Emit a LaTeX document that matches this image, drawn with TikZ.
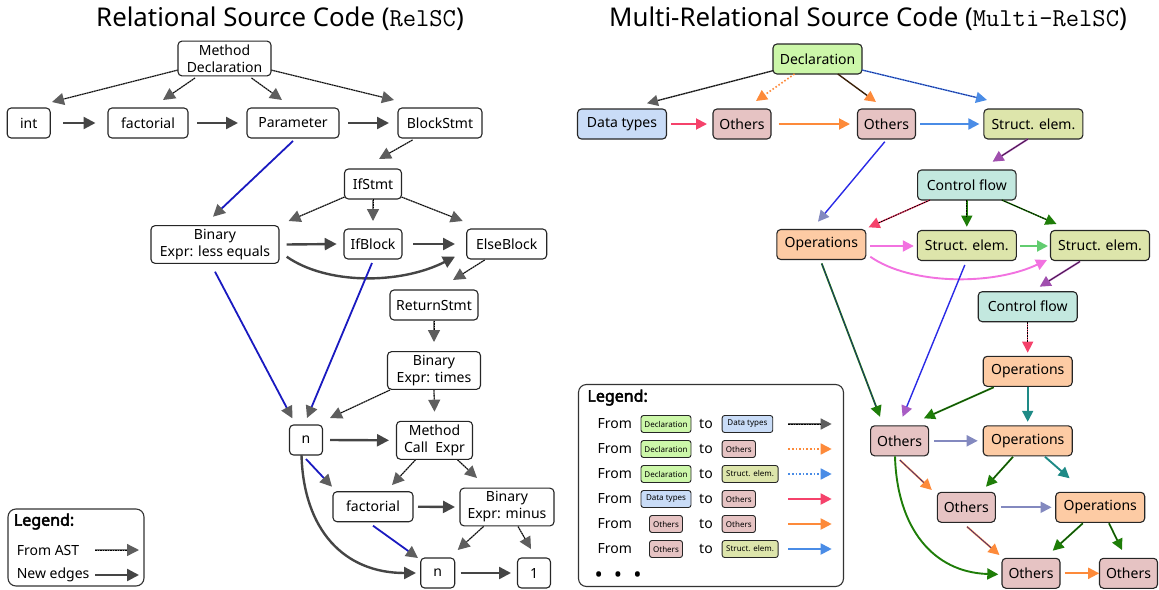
\documentclass[tikz,border=0pt]{standalone}
\usepackage{fontspec}
\setmainfont{Noto Sans}
\newfontfamily\lgbf{Noto Sans}[FakeBold=3]
\usetikzlibrary{arrows.meta,calc}
\definecolor{headgray}{HTML}{5E5E5E}
\definecolor{astgray}{HTML}{7A7A7A}
\definecolor{edgedark}{HTML}{454545}
\definecolor{bluel}{HTML}{1A1AC0}
\definecolor{declc}{HTML}{CCF7A9}
\definecolor{dtc}{HTML}{C9DCF7}
\definecolor{othc}{HTML}{E6C3C3}
\definecolor{sec}{HTML}{DDE5AB}
\definecolor{cfc}{HTML}{C3E8DF}
\definecolor{opc}{HTML}{FDCBA4}
\definecolor{cred}{HTML}{F5426B}
\definecolor{corange}{HTML}{FD8A3A}
\definecolor{cblue}{HTML}{4A8CE6}
\definecolor{cpurple}{HTML}{A04FAE}
\definecolor{cdpurple}{HTML}{3A1038}
\definecolor{clav}{HTML}{8389BF}
\definecolor{cnavy}{HTML}{1F1F8A}
\definecolor{cgreen}{HTML}{1E7D08}
\definecolor{cdgreen}{HTML}{123F08}
\definecolor{cpink}{HTML}{F272E0}
\definecolor{clgreen}{HTML}{62CC70}
\definecolor{cteal}{HTML}{1E8A86}
\definecolor{cblue2}{HTML}{2A2AE6}
\definecolor{cvio}{HTML}{A85CC4}
\definecolor{cbrown}{HTML}{3A2008}
\tikzset{
  box/.style={draw=black!85, line width=1.1pt, rounded corners=4pt, fill=white,
    minimum height=30pt, inner xsep=5pt, inner ysep=3.5pt, align=center,
    font=\fontsize{14}{17}\selectfont},
  sbox/.style={draw=black!85, line width=0.9pt, rounded corners=2.5pt,
    minimum height=17pt, inner xsep=2pt, inner ysep=1pt,
    font=\fontsize{8}{9}\selectfont},
  lt/.style={font=\fontsize{14}{16}\selectfont, inner sep=0pt},
  lgt/.style={font=\lgbf\fontsize{16}{18}\selectfont, inner sep=0pt, anchor=west},
  hd/.style={-{Triangle[length=11pt,width=11pt,color=#1]}},
  hdl/.style={-{Triangle[length=12pt,width=12pt,color=#1]}},
  ast/.style={draw=astgray, line width=1.3pt, hdl=headgray,
    postaction={draw=black, line width=0.8pt, dash pattern=on 1.6pt off 0.9pt, -, shorten >=12pt}},
  newe/.style={draw=edgedark, line width=2.4pt, hdl=edgedark},
  bluee/.style={draw=bluel, line width=1.8pt, hdl=headgray},
  re/.style={line width=1.9pt, draw=#1, hd=#1},
  rdual/.style 2 args={line width=1.8pt, draw=#2, hd=#2,
    postaction={draw=#1, line width=0.6pt, -, shorten >=11pt}},
  rdash/.style 2 args={line width=1.4pt, draw=#2, hd=#2,
    postaction={draw=#1, line width=0.8pt, dash pattern=on 1.6pt off 1pt, -, shorten >=11pt}},
  rdot/.style={line width=1.6pt, draw=#1, dash pattern=on 1.6pt off 2pt, hd=#1},
  rthin/.style 2 args={line width=1.4pt, draw=#1, hd=#2},
}
\begin{document}
\begin{tikzpicture}[x=1pt,y=-1pt]
\useasboundingbox (0,0) rectangle (1159,589);
% ---------------- titles
\node[font=\fontsize{25.8}{28}\selectfont, inner sep=0pt] (tL) at (280,19) {Relational Source Code (\texttt{RelSC})};
\node[font=\fontsize{25.8}{28}\selectfont, inner sep=0pt] (tR) at (868,19) {Multi-Relational Source Code (\texttt{Multi-RelSC})};
% ---------------- left nodes
\node[box, minimum width=93pt] (md) at (224.5,58.5) {Method\\Declaration};
\node[box, minimum width=43pt] (int) at (28.7,123) {int};
\node[box, minimum width=80pt] (fac) at (148,123) {factorial};
\node[box, minimum width=92pt] (par) at (293,123) {Parameter};
\node[box, minimum width=84pt] (blk) at (440,123) {BlockStmt};
\node[box, minimum width=57pt] (ifs) at (373,184) {IfStmt};
\node[box, minimum width=128pt] (ble) at (215,244.5) {Binary\\Expr: less equals};
\node[box, minimum width=58pt] (ifb) at (373,244) {IfBlock};
\node[box, minimum width=80pt] (els) at (506.7,244) {ElseBlock};
\node[box, minimum width=88pt] (ret) at (434,305) {ReturnStmt};
\node[box, minimum width=93pt] (bti) at (434,370.5) {Binary\\Expr: times};
\node[box, minimum width=33pt] (n1) at (306,440) {n};
\node[box, minimum width=76pt] (mce) at (434.5,440.3) {Method\\Call\ \ Expr};
\node[box, minimum width=80pt] (fac2) at (373,506.7) {factorial};
\node[box, minimum width=94pt] (bmi) at (507,507) {Binary\\Expr: minus};
\node[box, minimum width=34pt] (n2) at (437.7,573) {n};
\node[box, minimum width=33pt] (one) at (534,573) {1};
% ---------------- left edges
\draw[ast] ([shift={(-46.5,11.5)}]md.center) -- ([shift={(23.3,-21)}]int.center);
\draw[ast] ([shift={(-29.5,19.5)}]md.center) -- ([shift={(15,-23)}]fac.center);
\draw[ast] ([shift={(27,19.5)}]md.center) -- ([shift={(-11,-23)}]par.center);
\draw[ast] ([shift={(46.5,11.5)}]md.center) -- ([shift={(-46,-23)}]blk.center);
\draw[newe] ([shift={(34.3,0)}]int.center) -- ([shift={(-52.5,0)}]fac.center);
\draw[newe] ([shift={(49,0)}]fac.center) -- ([shift={(-55,0)}]par.center);
\draw[newe] ([shift={(55,0)}]par.center) -- ([shift={(-51,0)}]blk.center);
\draw[bluee] ([shift={(0,18)}]par.center) -- ([shift={(-2,-27.8)}]ble.center);
\draw[ast] ([shift={(-27.5,17)}]blk.center) -- ([shift={(6,-25)}]ifs.center);
\draw[ast] ([shift={(-28.5,13)}]ifs.center) -- ([shift={(73.6,-23.5)}]ble.center);
\draw[ast] ([shift={(0,15)}]ifs.center) -- ([shift={(0,-23)}]ifb.center);
\draw[ast] ([shift={(28.5,13)}]ifs.center) -- ([shift={(-44,-23)}]els.center);
\draw[newe] ([shift={(71.7,0)}]ble.center) -- ([shift={(-36.3,0)}]ifb.center);
\draw[newe] ([shift={(40,0)}]ifb.center) -- ([shift={(-51.7,0)}]els.center);
\draw[newe] ([shift={(71.7,12.2)}]ble.center) .. controls +(40,28) and +(-55,28) .. ([shift={(-51.7,12.7)}]els.center);
\draw[ast] ([shift={(-22,16)}]els.center) -- ([shift={(19,-25)}]ret.center);
\draw[bluee] ([shift={(0,27.2)}]ble.center) -- ([shift={(-13.7,-21.7)}]n1.center);
\draw[bluee] ([shift={(-1,19)}]ifb.center) -- ([shift={(1,-22)}]n1.center);
\draw[ast] ([shift={(0,15.5)}]ret.center) -- ([shift={(0,-28.5)}]bti.center);
\draw[ast] ([shift={(-44,19.5)}]bti.center) -- ([shift={(24,-22)}]n1.center);
\draw[ast] ([shift={(0,19.5)}]bti.center) -- ([shift={(0,-28.6)}]mce.center);
\draw[newe] ([shift={(24,0)}]n1.center) -- ([shift={(-45.5,0)}]mce.center);
\draw[bluee] ([shift={(0,19)}]n1.center) -- ([shift={(-41,-20)}]fac2.center);
\draw[ast] ([shift={(-19,19.5)}]mce.center) -- ([shift={(19,-21.7)}]fac2.center);
\draw[ast] ([shift={(23,19.5)}]mce.center) -- ([shift={(-30,-29)}]bmi.center);
\draw[newe] ([shift={(45,0)}]fac2.center) -- ([shift={(-52,0)}]bmi.center);
\draw[bluee] ([shift={(0,19)}]fac2.center) -- ([shift={(-19.7,-15)}]n2.center);
\draw[newe] ([shift={(-4.5,15)}]n1.center) .. controls +(2,75) and +(-72,0) .. ([shift={(-21.7,0)}]n2.center);
\draw[ast] ([shift={(-23.5,19.5)}]bmi.center) -- ([shift={(20,-23)}]n2.center);
\draw[ast] ([shift={(11,19.5)}]bmi.center) -- ([shift={(-3,-24)}]one.center);
\draw[newe] ([shift={(23,0)}]n2.center) -- ([shift={(-23,0)}]one.center);
% ---------------- left legend
\node[draw=black!80, line width=1.1pt, rounded corners=8pt, minimum width=136pt, minimum height=77pt, inner sep=0pt] (lgL) at (76,547.5) {};
\node[lgt] (lgLt) at (13.7,521.5) {Legend:};
\node[lt, anchor=west] (lgL1) at (16.6,550) {From AST};
\node[lt, anchor=west] (lgL2) at (16.6,575) {New edges};
\coordinate (la1) at (95,550); \coordinate (lb1) at (139,550);
\coordinate (la2) at (95,575); \coordinate (lb2) at (139,575);
\draw[ast] (la1) -- (lb1);
\draw[newe] (la2) -- (lb2);
% ---------------- right nodes
\node[box, fill=declc, minimum width=89pt] (decl) at (817.5,59) {Declaration};
\node[box, fill=dtc, minimum width=89pt] (dt) at (622,124) {Data types};
\node[box, fill=othc, minimum width=58pt] (o1) at (742,124) {Others};
\node[box, fill=othc, minimum width=58pt] (o2) at (886.5,124) {Others};
\node[box, fill=sec, minimum width=99pt] (se1) at (1033.4,124) {Struct. elem.};
\node[box, fill=cfc, minimum width=98.5pt] (cf1) at (966.8,185) {Control flow};
\node[box, fill=opc, minimum width=89pt] (op1) at (821.3,244.5) {Operations};
\node[box, fill=sec, minimum width=99pt] (se2) at (966.8,245.5) {Struct. elem.};
\node[box, fill=sec, minimum width=99pt] (se3) at (1100,245.5) {Struct. elem.};
\node[box, fill=cfc, minimum width=99pt] (cf2) at (1027.7,306.7) {Control flow};
\node[box, fill=opc, minimum width=89pt] (op2) at (1027.7,371.3) {Operations};
\node[box, fill=othc, minimum width=58pt] (o3) at (899.6,440.8) {Others};
\node[box, fill=opc, minimum width=89pt] (op3) at (1027.7,440.8) {Operations};
\node[box, fill=othc, minimum width=58pt] (o4) at (966.3,507.3) {Others};
\node[box, fill=opc, minimum width=89pt] (op4) at (1100.2,507.3) {Operations};
\node[box, fill=othc, minimum width=58pt] (o5) at (1031,573.3) {Others};
\node[box, fill=othc, minimum width=58pt] (o6) at (1128.5,573.3) {Others};
% ---------------- right edges
\draw[rdash={black}{headgray}] ([shift={(-44.5,11.7)}]decl.center) -- ([shift={(25,-20.7)}]dt.center);
\draw[rdot=corange] ([shift={(-23,15)}]decl.center) -- ([shift={(14,-23)}]o1.center);
\draw[rthin={cbrown}{corange}] ([shift={(20.3,15)}]decl.center) -- ([shift={(-10.5,-22)}]o2.center);
\draw[rdash={cnavy}{cblue}] ([shift={(44.5,11)}]decl.center) -- ([shift={(-46.4,-24)}]se1.center);
\draw[re=cred] ([shift={(49.4,0)}]dt.center) -- ([shift={(-35,0)}]o1.center);
\draw[re=corange] ([shift={(36.5,0)}]o1.center) -- ([shift={(-36.5,0)}]o2.center);
\draw[re=cblue] ([shift={(33.5,0)}]o2.center) -- ([shift={(-54,0)}]se1.center);
\draw[rdual={cdpurple}{cpurple}] ([shift={(-5.4,15)}]se1.center) -- ([shift={(25.8,-23.3)}]cf1.center);
\draw[rthin={cblue2}{clav}] ([shift={(-1.7,17.7)}]o2.center) -- ([shift={(-3.3,-22.8)}]op1.center);
\draw[rdash={black}{cred}] ([shift={(-36.8,15)}]cf1.center) -- ([shift={(47.3,-17.2)}]op1.center);
\draw[rdash={black}{cgreen}] ([shift={(0,15)}]cf1.center) -- ([shift={(0,-18.8)}]se2.center);
\draw[rdash={black}{cgreen}] ([shift={(35,15)}]cf1.center) -- ([shift={(-43.5,-21.5)}]se3.center);
\draw[re=cpink, line width=2.1pt] ([shift={(49,1.5)}]op1.center) -- ([shift={(-53,0.5)}]se2.center);
\draw[re=clgreen, line width=2.1pt] ([shift={(53,0.5)}]se2.center) -- ([shift={(-52,0.5)}]se3.center);
\draw[re=cpink] ([shift={(49,12.2)}]op1.center) .. controls +(40,28) and +(-55,26) .. ([shift={(-53,14.5)}]se3.center);
\draw[rdual={cdpurple}{cpurple}] ([shift={(-20,16)}]se3.center) -- ([shift={(12,-20)}]cf2.center);
\draw[rdual={cnavy}{cgreen}] ([shift={(0.4,19)}]op1.center) -- ([shift={(-19.6,-24)}]o3.center);
\draw[rthin={cblue2}{cvio}] ([shift={(-2,19.5)}]se2.center) -- ([shift={(3,-24)}]o3.center);
\draw[rdash={black}{cred}] ([shift={(0,15.3)}]cf2.center) -- ([shift={(0,-18.6)}]op2.center);
\draw[rdual={cdgreen}{cgreen}] ([shift={(-34,16)}]op2.center) -- ([shift={(24.3,-22.5)}]o3.center);
\draw[re=cteal] ([shift={(0,15.5)}]op2.center) -- ([shift={(0,-19)}]op3.center);
\draw[re=clav] ([shift={(34.8,0)}]o3.center) -- ([shift={(-50,0)}]op3.center);
\draw[rdual={cdgreen}{cgreen}] ([shift={(-14.7,16)}]op3.center) -- ([shift={(19.7,-20.6)}]o4.center);
\draw[re=cteal] ([shift={(17.3,16)}]op3.center) -- ([shift={(-30.6,-29)}]op4.center);
\draw[rdual={cnavy}{corange}] ([shift={(0.2,19.2)}]o3.center) -- ([shift={(-34.5,-17.3)}]o4.center);
\draw[re=clav] ([shift={(34.6,0)}]o4.center) -- ([shift={(-48.6,0)}]op4.center);
\draw[rdual={cdgreen}{cgreen}] ([shift={(-17.4,16)}]op4.center) -- ([shift={(21.7,-22.6)}]o5.center);
\draw[rdual={cdgreen}{cgreen}] ([shift={(8.8,16)}]op4.center) -- ([shift={(-6.5,-23.3)}]o6.center);
\draw[rdual={cnavy}{corange}] ([shift={(0.7,19.4)}]o4.center) -- ([shift={(-31.6,-18.3)}]o5.center);
\draw[re=cgreen] ([shift={(-4.6,15.5)}]o3.center) .. controls +(2,72) and +(-65,-2) .. ([shift={(-32.7,1)}]o5.center);
\draw[re=corange] ([shift={(33.7,0)}]o5.center) -- ([shift={(-29.3,0)}]o6.center);
% ---------------- right legend
\node[draw=black!80, line width=1.1pt, rounded corners=8pt, minimum width=265pt, minimum height=202pt, inner sep=0pt] (lgR) at (711,485.5) {};
\node[lgt] (lgRt) at (587.3,397.5) {Legend:};
% row 1
\node[lt, anchor=west] (f1) at (597.3,424) {From};
\node[sbox, fill=declc, minimum width=50pt] (fb1) at (666,424) {Declaration};
\node[lt] (t1) at (706,424) {to};
\node[sbox, fill=dtc, minimum width=50.6pt, anchor=west] (tb1) at (721.7,424) {Data types};
\coordinate (ls1) at (788.3,424); \coordinate (le1) at (831.7,424);
\draw[rdash={black}{headgray}] (ls1) -- (le1);
% row 2
\node[lt, anchor=west] (f2) at (597.3,449) {From};
\node[sbox, fill=declc, minimum width=50pt] (fb2) at (666,449) {Declaration};
\node[lt] (t2) at (706,449) {to};
\node[sbox, fill=othc, minimum width=33.3pt, anchor=west] (tb2) at (721.7,449) {Others};
\coordinate (ls2) at (788.3,449); \coordinate (le2) at (831.7,449);
\draw[rdot=corange] (ls2) -- (le2);
% row 3
\node[lt, anchor=west] (f3) at (597.3,474) {From};
\node[sbox, fill=declc, minimum width=50pt] (fb3) at (666,474) {Declaration};
\node[lt] (t3) at (706,474) {to};
\node[sbox, fill=sec, minimum width=56pt, anchor=west] (tb3) at (721.7,474) {Struct. elem.};
\coordinate (ls3) at (788.3,474); \coordinate (le3) at (831.7,474);
\draw[rdot=cblue] (ls3) -- (le3);
% row 4
\node[lt, anchor=west] (f4) at (597.3,499) {From};
\node[sbox, fill=dtc, minimum width=50pt] (fb4) at (666,499) {Data types};
\node[lt] (t4) at (706,499) {to};
\node[sbox, fill=othc, minimum width=33.3pt, anchor=west] (tb4) at (721.7,499) {Others};
\coordinate (ls4) at (788.3,499); \coordinate (le4) at (831.7,499);
\draw[re=cred] (ls4) -- (le4);
% row 5
\node[lt, anchor=west] (f5) at (597.3,524) {From};
\node[sbox, fill=othc, minimum width=33pt] (fb5) at (666,524) {Others};
\node[lt] (t5) at (706,524) {to};
\node[sbox, fill=othc, minimum width=33.3pt, anchor=west] (tb5) at (721.7,524) {Others};
\coordinate (ls5) at (788.3,524); \coordinate (le5) at (831.7,524);
\draw[re=corange] (ls5) -- (le5);
% row 6
\node[lt, anchor=west] (f6) at (597.3,549) {From};
\node[sbox, fill=othc, minimum width=33pt] (fb6) at (666,549) {Others};
\node[lt] (t6) at (706,549) {to};
\node[sbox, fill=sec, minimum width=56pt, anchor=west] (tb6) at (721.7,549) {Struct. elem.};
\coordinate (ls6) at (788.3,549); \coordinate (le6) at (831.7,549);
\draw[re=cblue] (ls6) -- (le6);
% dots
\node[font=\fontsize{22}{24}\selectfont, inner sep=0pt, anchor=west] (dots) at (594.5,576.7) {•\hspace{11pt}•\hspace{11pt}•};
\end{tikzpicture}
\end{document}
